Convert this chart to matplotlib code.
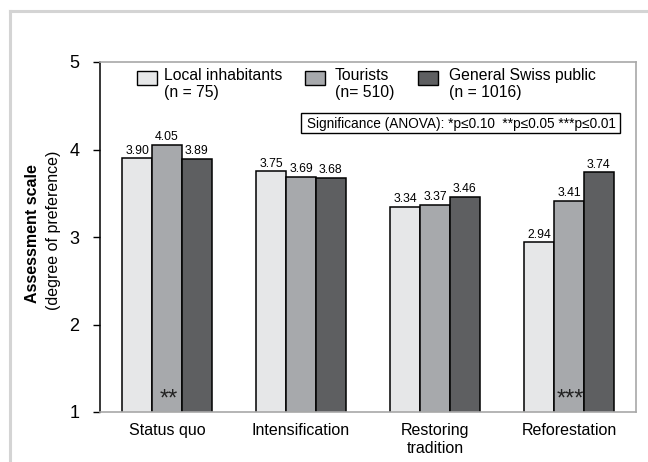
import numpy as np
import matplotlib
matplotlib.use('Agg')
import matplotlib.pyplot as plt
from matplotlib.patches import Rectangle
from matplotlib.lines import Line2D

plt.rcParams['font.family'] = ['Liberation Sans', 'DejaVu Sans']

categories = ['Status quo', 'Intensification', 'Restoring\ntradition', 'Reforestation']
groups = ['Local inhabitants\n(n = 75)', 'Tourists\n(n= 510)', 'General Swiss public\n(n = 1016)']
local_vals = [3.90, 3.75, 3.34, 2.94]
tourist_vals = [4.05, 3.69, 3.37, 3.41]
swiss_vals = [3.89, 3.68, 3.46, 3.74]
# significance stars, drawn inside the tourists bar
stars = ['**', '', '', '***']

colors = ['#e6e7e8', '#a7a9ac', '#5e5f61']

W, H = 648, 462
fig = plt.figure(figsize=(6.48, 4.62), dpi=100)
ax = fig.add_axes([100/W, 50/H, 536/W, 350/H])

x = np.arange(len(categories))
w = 0.222
series = [local_vals, tourist_vals, swiss_vals]
for i, vals in enumerate(series):
    xs = x + (i - 1) * w
    ax.bar(xs, vals, width=w, color=colors[i], edgecolor='black', linewidth=1.1, zorder=2)
    for xi, v in zip(xs, vals):
        ax.text(xi, v + 0.02, '%.2f' % v, ha='center', va='bottom', fontsize=8.8)

for xi, s in zip(x, stars):
    if s:
        ax.text(xi + 0.01, 1.07, s, ha='center', va='baseline', fontsize=17, color='#222222', zorder=3)

ax.set_xlim(-0.5, 3.5)
ax.set_ylim(1, 5)
ax.set_yticks([1, 2, 3, 4, 5])
ax.set_xticks(x)
ax.set_xticklabels(categories, fontsize=11.5, linespacing=1.2)
ax.tick_params(axis='x', length=0, pad=8)
ax.tick_params(axis='y', length=5, width=1, labelsize=13, pad=10, direction='out')

for side in ['top', 'right', 'bottom']:
    ax.spines[side].set_color('#a8a8a8')
    ax.spines[side].set_linewidth(1.2)
ax.spines['left'].set_color('black')
ax.spines['left'].set_linewidth(1.1)

fig.text(33/W, 1 - 234/H, 'Assessment scale', rotation=90, ha='center', va='center',
         fontsize=11.5, fontweight='bold')
fig.text(54/W, 1 - 230/H, '(degree of preference)', rotation=90, ha='center', va='center',
         fontsize=11.5)

# legend, hand placed like the original
sq_x = [137, 305, 418]
txt_x = [164, 335, 449]
for sx, tx, lab, c in zip(sq_x, txt_x, groups, colors):
    fig.patches.append(Rectangle((sx/W, 1 - 85/H), 20/W, 14/H, transform=fig.transFigure,
                                 facecolor=c, edgecolor='black', linewidth=1.0))
    fig.text(tx/W, 1 - 68/H, lab, ha='left', va='top', fontsize=11.3, linespacing=1.15)

# significance box
fig.patches.append(Rectangle((301/W, 1 - 133/H), 319/W, 20/H, transform=fig.transFigure,
                             facecolor='white', edgecolor='black', linewidth=1.0, zorder=3))
fig.text(461/W, 1 - 123.5/H, 'Significance (ANOVA): *p\u22640.10  **p\u22640.05 ***p\u22640.01',
         ha='center', va='center', fontsize=9.8, zorder=4)

# light grey outer frame
fig.lines.append(Line2D([10/W, 10/W], [0, 1 - 11/H], transform=fig.transFigure,
                        color='#d4d4d4', linewidth=2.2))
fig.lines.append(Line2D([10/W, 1], [1 - 11/H, 1 - 11/H], transform=fig.transFigure,
                        color='#d4d4d4', linewidth=2.2))

fig.savefig('out.png', dpi=100)
